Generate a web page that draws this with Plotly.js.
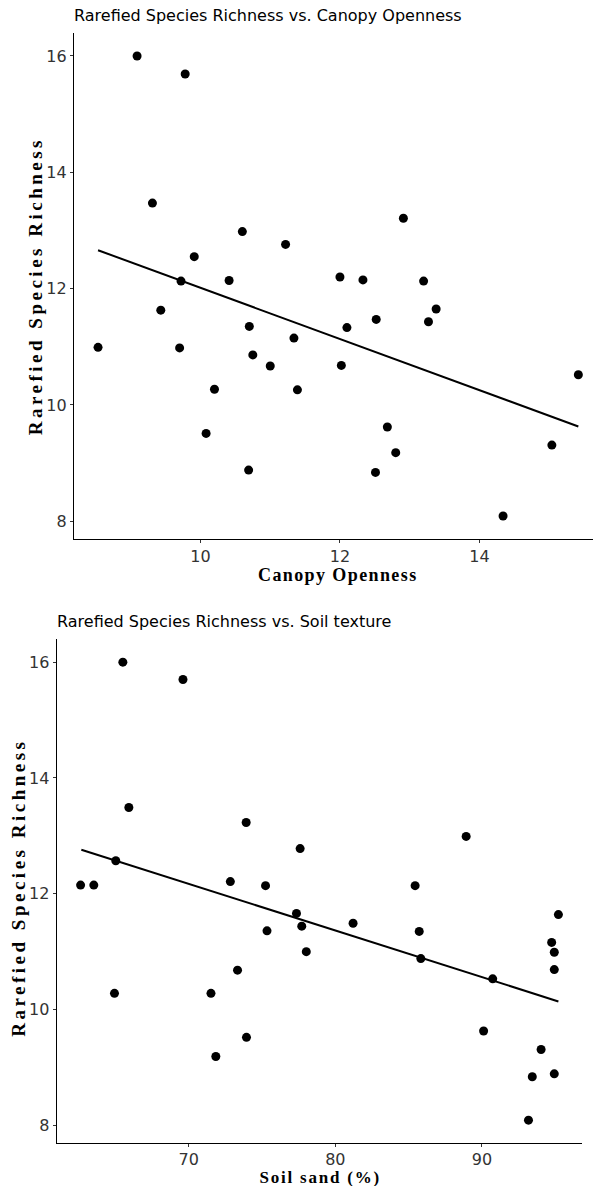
<!DOCTYPE html>
<html>
<head>
<meta charset="utf-8">
<script src="https://cdn.plot.ly/plotly-3.0.1.min.js"></script>
<style>
html, body { margin: 0; padding: 0; background: #fff; }
#chart { width: 593px; height: 1186px; }
text[style*="Liberation Serif"] { letter-spacing: 1.4px; }
</style>
</head>
<body>
<div id="chart"></div>
<script>
// ---- Data ----
var canopyX = [9.09, 9.78, 9.31, 10.60, 11.22, 12.91, 9.91, 9.72, 10.41, 12.00, 12.33, 13.20,
               9.43, 8.53, 9.70, 10.70, 10.75, 11.00, 11.34, 11.39, 10.20, 10.08, 10.69,
               12.10, 12.02, 12.52, 12.51, 12.68, 12.80, 13.27, 13.38, 14.34, 15.04, 15.42];
var canopyY = [16.00, 15.69, 13.47, 12.98, 12.76, 13.21, 12.55, 12.13, 12.14, 12.20, 12.15, 12.13,
               11.63, 10.99, 10.98, 11.35, 10.86, 10.67, 11.15, 10.26, 10.27, 9.51, 8.88,
               11.33, 10.68, 11.47, 8.84, 9.62, 9.18, 11.43, 11.65, 8.09, 9.31, 10.52];
var canopyFitX = [8.53, 15.42];
var canopyFitY = [12.66, 9.63];

var sandX = [65.51, 69.61, 65.92, 73.92, 77.60, 88.92, 65.03, 62.63, 63.53, 72.84, 75.24, 85.44,
             77.35, 77.71, 75.34, 78.02, 81.21, 85.72, 85.83, 90.73, 73.33, 64.94, 71.52,
             73.94, 71.85, 90.11, 94.03, 93.43, 94.93, 93.17, 95.21, 94.75, 94.93, 94.93];
var sandY = [16.00, 15.70, 13.49, 13.23, 12.78, 12.99, 12.57, 12.15, 12.15, 12.21, 12.14, 12.14,
             11.66, 11.44, 11.36, 11.00, 11.49, 11.35, 10.88, 10.53, 10.68, 10.28, 10.28,
             9.52, 9.19, 9.63, 9.31, 8.84, 8.89, 8.09, 11.64, 11.16, 10.99, 10.69];
var sandFitX = [62.68, 95.21];
var sandFitY = [12.76, 10.14];

var yTicks = [8, 10, 12, 14, 16];
var canopyTicks = [10, 12, 14];
var sandTicks = [70, 80, 90];

var titles = ["Rarefied Species Richness vs. Canopy Openness", "Rarefied Species Richness vs. Soil texture"];
var xTitles = ["Canopy Openness", "Soil sand (%)"];
var yTitle = "Rarefied Species Richness";

// ---- Figure ----
var W = 593, H = 1186;
function px(x) { return x / W; }
function py(y) { return 1 - y / H; }

var mk = {color: '#000', size: 9};
var ln = {color: '#000', width: 2};
var traces = [
  {x: canopyX, y: canopyY, type: 'scatter', mode: 'markers', marker: mk, xaxis: 'x', yaxis: 'y'},
  {x: canopyFitX, y: canopyFitY, type: 'scatter', mode: 'lines', line: ln, xaxis: 'x', yaxis: 'y'},
  {x: sandX, y: sandY, type: 'scatter', mode: 'markers', marker: mk, xaxis: 'x2', yaxis: 'y2'},
  {x: sandFitX, y: sandFitY, type: 'scatter', mode: 'lines', line: ln, xaxis: 'x2', yaxis: 'y2'}
];

var tickFont = {family: 'DejaVu Sans', size: 16, color: '#333'};
function axisBase(extra) {
  var a = {
    showline: true, linecolor: '#000', linewidth: 1.1, mirror: false,
    ticks: 'outside', ticklen: 3, tickwidth: 1, tickcolor: '#333',
    showgrid: false, zeroline: false, tickfont: tickFont, tickmode: 'array',
    fixedrange: true
  };
  for (var k in extra) a[k] = extra[k];
  return a;
}

var titleFont = {family: 'DejaVu Sans', size: 16, color: '#000'};
var xTitleFont = {family: 'Liberation Serif', size: 18, color: '#000', weight: 'bold'};
var xTitleFont2 = {family: 'Liberation Serif', size: 17, color: '#000', weight: 'bold'};
var yTitleFont = {family: 'Liberation Serif', size: 19, color: '#000', weight: 'bold'};

var layout = {
  width: W, height: H,
  margin: {l: 0, r: 0, t: 0, b: 0},
  paper_bgcolor: '#fff', plot_bgcolor: '#fff',
  showlegend: false,
  xaxis: axisBase({domain: [px(74), 1], range: [8.185, 15.63], tickvals: canopyTicks, anchor: 'y', ticklabelstandoff: -1}),
  yaxis: axisBase({domain: [py(539.3), py(32.7)], range: [7.69, 16.40], tickvals: yTicks, anchor: 'x'}),
  xaxis2: axisBase({domain: [px(56.7), px(582.3)], range: [61.0, 96.84], tickvals: sandTicks, anchor: 'y2', ticklabelstandoff: -2}),
  yaxis2: axisBase({domain: [py(1143.3), py(639)], range: [7.69, 16.40], tickvals: yTicks, anchor: 'x2'}),
  annotations: [
    {text: titles[0], xref: 'paper', yref: 'paper', x: px(73), y: py(25.5), xanchor: 'left', yanchor: 'bottom', showarrow: false, font: titleFont, borderpad: 0},
    {text: titles[1], xref: 'paper', yref: 'paper', x: px(56), y: py(631.5), xanchor: 'left', yanchor: 'bottom', showarrow: false, font: titleFont, borderpad: 0},
    {text: xTitles[0], xref: 'paper', yref: 'paper', x: px(338), y: py(586), xanchor: 'center', yanchor: 'bottom', showarrow: false, font: xTitleFont, borderpad: 0},
    {text: xTitles[1], xref: 'paper', yref: 'paper', x: px(319.5), y: py(1188), xanchor: 'center', yanchor: 'bottom', showarrow: false, font: xTitleFont2, borderpad: 0},
    {text: yTitle, xref: 'paper', yref: 'paper', x: px(35), y: py(286), xanchor: 'center', yanchor: 'middle', textangle: -90, showarrow: false, font: yTitleFont},
    {text: yTitle, xref: 'paper', yref: 'paper', x: px(17.5), y: py(888), xanchor: 'center', yanchor: 'middle', textangle: -90, showarrow: false, font: yTitleFont}
  ]
};

Plotly.newPlot('chart', traces, layout, {displayModeBar: false, staticPlot: true}).then(function (gd) {
  var els = gd.querySelectorAll('text.annotation-text');
  els.forEach(function (t) {
    if (t.textContent === yTitle) t.style.letterSpacing = '3.5px';
    if (t.textContent === xTitles[1]) t.style.letterSpacing = '1.8px';
  });
});
</script>
</body>
</html>
